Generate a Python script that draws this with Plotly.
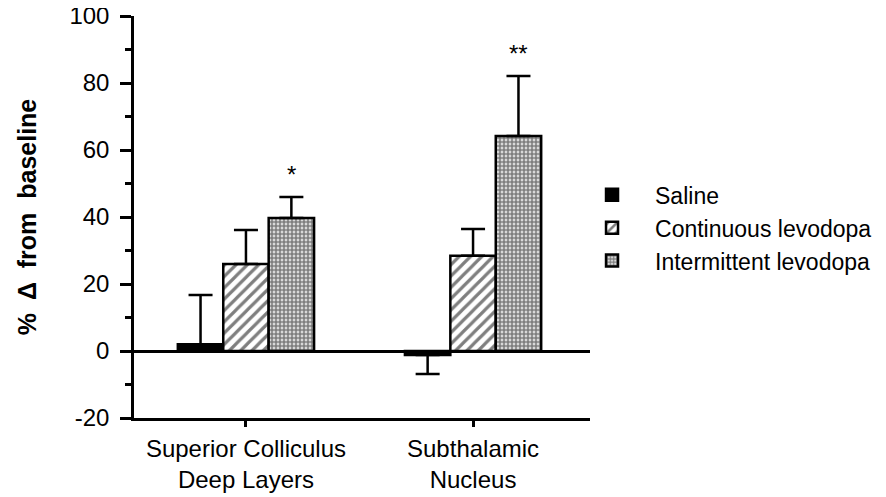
import plotly.graph_objects as go

categories = ["Superior Colliculus<br>Deep Layers", "Subthalamic<br>Nucleus"]
series_names = ["Saline", "Continuous levodopa", "Intermittent levodopa"]
saline = [2.0, -1.2]
saline_err_up = [14.7, 0.0]
saline_err_down = [0.0, 5.7]
continuous = [26.0, 28.4]
continuous_err = [10.1, 8.0]
intermittent = [39.7, 64.2]
intermittent_err = [6.3, 17.9]
y_ticks = [-20, 0, 20, 40, 60, 80, 100]
sig_labels = ["*", "**"]

FONT = "Liberation Sans, Arial, Helvetica, sans-serif"
LW = 2.5

fig = go.Figure()

err_style = dict(type="data", symmetric=False, color="black", thickness=2.5, width=12)

fig.add_trace(go.Bar(
    name=series_names[0], x=categories, y=saline, legendgroup="a",
    marker=dict(color="black", line=dict(color="black", width=LW)),
    error_y=dict(array=saline_err_up, arrayminus=saline_err_down, **err_style),
))
fig.add_trace(go.Bar(
    name=series_names[1], x=categories, y=continuous, legendgroup="b",
    marker=dict(color="white", line=dict(color="black", width=LW),
                pattern=dict(shape="/", size=8, solidity=0.4, fgcolor="black", bgcolor="white")),
    error_y=dict(array=continuous_err, arrayminus=[0, 0], **err_style),
))
fig.add_trace(go.Bar(
    name=series_names[2], x=categories, y=intermittent, legendgroup="c",
    marker=dict(color="white", line=dict(color="black", width=LW),
                pattern=dict(shape=".", size=4, solidity=0.75, fgcolor="black", bgcolor="white")),
    error_y=dict(array=intermittent_err, arrayminus=[0, 0], **err_style),
))

# significance markers above the intermittent bars
for i, lab in enumerate(sig_labels):
    top = intermittent[i] + intermittent_err[i]
    fig.add_annotation(x=i, y=top, text=lab, showarrow=False, xshift=45.5,
                       yanchor="bottom", yshift=7,
                       font=dict(family=FONT, size=24, color="black"))

# the page body has an 8px margin, so the figure is sized to fit the window
fig.update_layout(
    width=878, height=489,
    margin=dict(l=126, r=296, t=8, b=79, autoexpand=False),
    paper_bgcolor="white", plot_bgcolor="white",
    barmode="group", bargap=0.4, bargroupgap=0,
    font=dict(family=FONT, size=24, color="black"),
    legend=dict(x=0.954, y=0.473, xanchor="left", yanchor="middle",
                font=dict(family=FONT, size=23, color="black"),
                itemwidth=76, tracegroupgap=0, bgcolor="rgba(0,0,0,0)"),
    showlegend=True,
)

fig.update_xaxes(
    range=[-0.493, 1.515], showline=True, linecolor="black", linewidth=LW,
    ticks="outside", ticklen=6, tickwidth=LW, tickcolor="black",
    showgrid=False, zeroline=False, automargin=False,
    tickfont=dict(family=FONT, size=24, color="black"),
    ticklabelstandoff=1,
)
fig.update_yaxes(
    range=[-20, 100], tickvals=y_ticks, ticktext=[str(v) for v in y_ticks],
    showline=True, linecolor="black", linewidth=LW,
    ticks="outside", ticklen=11, tickwidth=LW, tickcolor="black",
    minor=dict(dtick=10, ticks="outside", ticklen=6, tickwidth=LW, tickcolor="black", showgrid=False),
    showgrid=False, zeroline=True, zerolinecolor="black", zerolinewidth=LW,
    automargin=False, ticklabeloverflow="allow",
    tickfont=dict(family=FONT, size=24, color="black"),
    ticklabelstandoff=6,
    title=dict(text="%  \u0394  from  baseline", standoff=26,
               font=dict(family=FONT, size=25, color="black", weight="bold")),
)

fig.write_html("out.html")
